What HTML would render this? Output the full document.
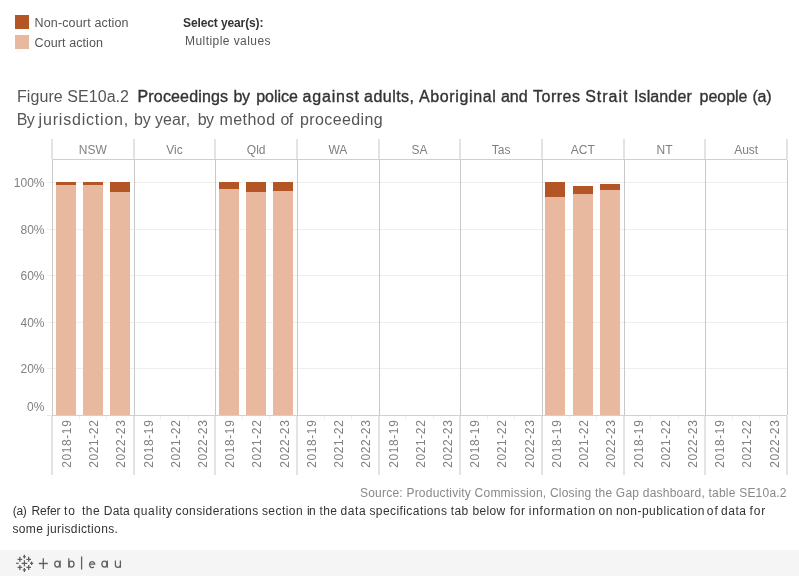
<!DOCTYPE html>
<html><head><meta charset="utf-8"><style>
html,body{margin:0;padding:0;background:#fff;width:799px;height:576px;overflow:hidden;position:relative}
.t{position:absolute;white-space:pre;font-family:"Liberation Sans",sans-serif}
.r{position:absolute}
.rot{position:absolute;width:0;height:0;font-family:"Liberation Sans",sans-serif;font-size:12px;color:#808080;white-space:nowrap}
.rot span{position:absolute;left:0;top:0;transform:translate(-50%,-50%) rotate(-90deg);line-height:12px;letter-spacing:0.6px;padding-left:0.6px}
</style></head><body><div style="position:absolute;left:0;top:0;width:799px;height:576px;will-change:transform">
<div class="r" style="left:15px;top:15px;width:14px;height:14px;background:#b45526"></div>
<div class="r" style="left:15px;top:35px;width:14px;height:14px;background:#e9b99f"></div>
<div class="t" style="left:34.50px;top:16.62px;font-size:12.5px;line-height:12.5px;color:#555;letter-spacing:0.153px">Non-court action</div>
<div class="t" style="left:34.50px;top:37.42px;font-size:12.5px;line-height:12.5px;color:#555;letter-spacing:0.101px">Court action</div>
<div class="t" style="left:183.00px;top:17.34px;font-size:12px;line-height:12px;color:#333;font-weight:bold;letter-spacing:-0.110px">Select year(s):</div>
<div class="t" style="left:185.00px;top:34.84px;font-size:12px;line-height:12px;color:#555;letter-spacing:0.438px">Multiple values</div>
<div class="t" style="left:17.00px;top:89.46px;font-size:16px;line-height:16px;color:#555;letter-spacing:0.063px">Figure SE10a.2</div>
<div class="t" style="left:137.50px;top:89.46px;font-size:16px;line-height:16px;color:#333;letter-spacing:0.160px;-webkit-text-stroke:0.35px #333;">Proceedings</div>
<div class="t" style="left:233.50px;top:89.46px;font-size:16px;line-height:16px;color:#333;letter-spacing:-0.400px;-webkit-text-stroke:0.35px #333;">by</div>
<div class="t" style="left:256.20px;top:89.46px;font-size:16px;line-height:16px;color:#333;letter-spacing:0.000px;-webkit-text-stroke:0.35px #333;">police</div>
<div class="t" style="left:302.50px;top:89.46px;font-size:16px;line-height:16px;color:#333;letter-spacing:0.817px;-webkit-text-stroke:0.35px #333;">against</div>
<div class="t" style="left:364.00px;top:89.46px;font-size:16px;line-height:16px;color:#333;letter-spacing:0.483px;-webkit-text-stroke:0.35px #333;">adults,</div>
<div class="t" style="left:419.00px;top:89.46px;font-size:16px;line-height:16px;color:#333;letter-spacing:0.622px;-webkit-text-stroke:0.35px #333;">Aboriginal</div>
<div class="t" style="left:501.00px;top:89.46px;font-size:16px;line-height:16px;color:#333;letter-spacing:-0.050px;-webkit-text-stroke:0.35px #333;">and</div>
<div class="t" style="left:533.00px;top:89.46px;font-size:16px;line-height:16px;color:#333;letter-spacing:0.500px;-webkit-text-stroke:0.35px #333;">Torres</div>
<div class="t" style="left:585.15px;top:89.46px;font-size:16px;line-height:16px;color:#333;letter-spacing:1.000px;-webkit-text-stroke:0.35px #333;">Strait</div>
<div class="t" style="left:634.00px;top:89.46px;font-size:16px;line-height:16px;color:#333;letter-spacing:0.114px;-webkit-text-stroke:0.35px #333;">Islander</div>
<div class="t" style="left:699.60px;top:89.46px;font-size:16px;line-height:16px;color:#333;letter-spacing:-0.040px;-webkit-text-stroke:0.35px #333;">people</div>
<div class="t" style="left:752.50px;top:89.46px;font-size:16px;line-height:16px;color:#333;letter-spacing:-0.250px;-webkit-text-stroke:0.35px #333;">(a)</div>
<div class="t" style="left:16.80px;top:111.96px;font-size:16px;line-height:16px;color:#555;letter-spacing:-0.600px;">By</div>
<div class="t" style="left:38.60px;top:111.96px;font-size:16px;line-height:16px;color:#555;letter-spacing:0.800px;">jurisdiction,</div>
<div class="t" style="left:134.00px;top:111.96px;font-size:16px;line-height:16px;color:#555;letter-spacing:-0.200px;">by</div>
<div class="t" style="left:155.00px;top:111.96px;font-size:16px;line-height:16px;color:#555;letter-spacing:0.100px;">year,</div>
<div class="t" style="left:197.65px;top:111.96px;font-size:16px;line-height:16px;color:#555;letter-spacing:-0.600px;">by</div>
<div class="t" style="left:219.40px;top:111.96px;font-size:16px;line-height:16px;color:#555;letter-spacing:0.460px;">method</div>
<div class="t" style="left:280.50px;top:111.96px;font-size:16px;line-height:16px;color:#555;letter-spacing:-0.600px;">of</div>
<div class="t" style="left:300.00px;top:111.96px;font-size:16px;line-height:16px;color:#555;letter-spacing:0.378px;">proceeding</div>
<div class="r" style="left:47px;top:182px;width:740px;height:1px;background:#efefef"></div>
<div class="r" style="left:47px;top:229px;width:740px;height:1px;background:#efefef"></div>
<div class="r" style="left:47px;top:275px;width:740px;height:1px;background:#efefef"></div>
<div class="r" style="left:47px;top:322px;width:740px;height:1px;background:#efefef"></div>
<div class="r" style="left:47px;top:368px;width:740px;height:1px;background:#efefef"></div>
<div class="r" style="left:47px;top:415px;width:5px;height:1px;background:#e6e6e6"></div>
<div class="r" style="left:52px;top:415px;width:735px;height:1px;background:#d0d0d0"></div>
<div class="r" style="left:79px;top:416px;width:1px;height:3px;background:#eeeeee"></div>
<div class="r" style="left:106px;top:416px;width:1px;height:3px;background:#eeeeee"></div>
<div class="r" style="left:160px;top:416px;width:1px;height:3px;background:#eeeeee"></div>
<div class="r" style="left:188px;top:416px;width:1px;height:3px;background:#eeeeee"></div>
<div class="r" style="left:242px;top:416px;width:1px;height:3px;background:#eeeeee"></div>
<div class="r" style="left:269px;top:416px;width:1px;height:3px;background:#eeeeee"></div>
<div class="r" style="left:324px;top:416px;width:1px;height:3px;background:#eeeeee"></div>
<div class="r" style="left:351px;top:416px;width:1px;height:3px;background:#eeeeee"></div>
<div class="r" style="left:405px;top:416px;width:1px;height:3px;background:#eeeeee"></div>
<div class="r" style="left:433px;top:416px;width:1px;height:3px;background:#eeeeee"></div>
<div class="r" style="left:487px;top:416px;width:1px;height:3px;background:#eeeeee"></div>
<div class="r" style="left:514px;top:416px;width:1px;height:3px;background:#eeeeee"></div>
<div class="r" style="left:569px;top:416px;width:1px;height:3px;background:#eeeeee"></div>
<div class="r" style="left:596px;top:416px;width:1px;height:3px;background:#eeeeee"></div>
<div class="r" style="left:650px;top:416px;width:1px;height:3px;background:#eeeeee"></div>
<div class="r" style="left:678px;top:416px;width:1px;height:3px;background:#eeeeee"></div>
<div class="r" style="left:732px;top:416px;width:1px;height:3px;background:#eeeeee"></div>
<div class="r" style="left:759px;top:416px;width:1px;height:3px;background:#eeeeee"></div>
<div class="r" style="left:52px;top:159px;width:735px;height:1px;background:#cfcfcf"></div>
<div class="r" style="left:51px;top:139px;width:2px;height:20px;background:#e3e3e3"></div>
<div class="r" style="left:51px;top:416px;width:2px;height:59px;background:#e3e3e3"></div>
<div class="r" style="left:52px;top:160px;width:1px;height:255px;background:#c8c8c8"></div>
<div class="r" style="left:133px;top:139px;width:2px;height:20px;background:#e3e3e3"></div>
<div class="r" style="left:133px;top:416px;width:2px;height:59px;background:#e3e3e3"></div>
<div class="r" style="left:134px;top:160px;width:1px;height:255px;background:#c8c8c8"></div>
<div class="r" style="left:214px;top:139px;width:2px;height:20px;background:#e3e3e3"></div>
<div class="r" style="left:214px;top:416px;width:2px;height:59px;background:#e3e3e3"></div>
<div class="r" style="left:215px;top:160px;width:1px;height:255px;background:#c8c8c8"></div>
<div class="r" style="left:296px;top:139px;width:2px;height:20px;background:#e3e3e3"></div>
<div class="r" style="left:296px;top:416px;width:2px;height:59px;background:#e3e3e3"></div>
<div class="r" style="left:297px;top:160px;width:1px;height:255px;background:#c8c8c8"></div>
<div class="r" style="left:378px;top:139px;width:2px;height:20px;background:#e3e3e3"></div>
<div class="r" style="left:378px;top:416px;width:2px;height:59px;background:#e3e3e3"></div>
<div class="r" style="left:379px;top:160px;width:1px;height:255px;background:#c8c8c8"></div>
<div class="r" style="left:459px;top:139px;width:2px;height:20px;background:#e3e3e3"></div>
<div class="r" style="left:459px;top:416px;width:2px;height:59px;background:#e3e3e3"></div>
<div class="r" style="left:460px;top:160px;width:1px;height:255px;background:#c8c8c8"></div>
<div class="r" style="left:541px;top:139px;width:2px;height:20px;background:#e3e3e3"></div>
<div class="r" style="left:541px;top:416px;width:2px;height:59px;background:#e3e3e3"></div>
<div class="r" style="left:542px;top:160px;width:1px;height:255px;background:#c8c8c8"></div>
<div class="r" style="left:623px;top:139px;width:2px;height:20px;background:#e3e3e3"></div>
<div class="r" style="left:623px;top:416px;width:2px;height:59px;background:#e3e3e3"></div>
<div class="r" style="left:624px;top:160px;width:1px;height:255px;background:#c8c8c8"></div>
<div class="r" style="left:704px;top:139px;width:2px;height:20px;background:#e3e3e3"></div>
<div class="r" style="left:704px;top:416px;width:2px;height:59px;background:#e3e3e3"></div>
<div class="r" style="left:705px;top:160px;width:1px;height:255px;background:#c8c8c8"></div>
<div class="r" style="left:786px;top:139px;width:2px;height:20px;background:#e3e3e3"></div>
<div class="r" style="left:786px;top:416px;width:2px;height:59px;background:#e3e3e3"></div>
<div class="r" style="left:787px;top:160px;width:1px;height:255px;background:#c8c8c8"></div>
<div class="t" style="left:78.83px;top:143.84px;font-size:12px;line-height:12px;color:#808080;letter-spacing:0.000px">NSW</div>
<div class="t" style="left:166.27px;top:143.84px;font-size:12px;line-height:12px;color:#808080;letter-spacing:0.000px">Vic</div>
<div class="t" style="left:246.83px;top:143.84px;font-size:12px;line-height:12px;color:#808080;letter-spacing:0.000px">Qld</div>
<div class="t" style="left:328.39px;top:143.84px;font-size:12px;line-height:12px;color:#808080;letter-spacing:0.000px">WA</div>
<div class="t" style="left:411.49px;top:143.84px;font-size:12px;line-height:12px;color:#808080;letter-spacing:0.000px">SA</div>
<div class="t" style="left:491.83px;top:143.84px;font-size:12px;line-height:12px;color:#808080;letter-spacing:0.000px">Tas</div>
<div class="t" style="left:570.83px;top:143.84px;font-size:12px;line-height:12px;color:#808080;letter-spacing:0.000px">ACT</div>
<div class="t" style="left:656.50px;top:143.84px;font-size:12px;line-height:12px;color:#808080;letter-spacing:0.000px">NT</div>
<div class="t" style="left:734.15px;top:143.84px;font-size:12px;line-height:12px;color:#808080;letter-spacing:0.000px">Aust</div>
<div class="t" style="left:13.81px;top:177.44px;font-size:12px;line-height:12px;color:#808080;letter-spacing:0.000px">100%</div>
<div class="t" style="left:20.48px;top:224.44px;font-size:12px;line-height:12px;color:#808080;letter-spacing:0.000px">80%</div>
<div class="t" style="left:20.48px;top:270.44px;font-size:12px;line-height:12px;color:#808080;letter-spacing:0.000px">60%</div>
<div class="t" style="left:20.48px;top:317.44px;font-size:12px;line-height:12px;color:#808080;letter-spacing:0.000px">40%</div>
<div class="t" style="left:20.48px;top:363.44px;font-size:12px;line-height:12px;color:#808080;letter-spacing:0.000px">20%</div>
<div class="t" style="left:26.96px;top:400.84px;font-size:12px;line-height:12px;color:#808080;letter-spacing:0.000px">0%</div>
<div class="r" style="left:56px;top:182px;width:20px;height:3px;background:#b45526"></div>
<div class="r" style="left:56px;top:185px;width:20px;height:230px;background:#e9b99f"></div>
<div class="r" style="left:83px;top:182px;width:20px;height:3px;background:#b45526"></div>
<div class="r" style="left:83px;top:185px;width:20px;height:230px;background:#e9b99f"></div>
<div class="r" style="left:110px;top:182px;width:20px;height:10px;background:#b45526"></div>
<div class="r" style="left:110px;top:192px;width:20px;height:223px;background:#e9b99f"></div>
<div class="r" style="left:219px;top:182px;width:20px;height:7px;background:#b45526"></div>
<div class="r" style="left:219px;top:189px;width:20px;height:226px;background:#e9b99f"></div>
<div class="r" style="left:246px;top:182px;width:20px;height:10px;background:#b45526"></div>
<div class="r" style="left:246px;top:192px;width:20px;height:223px;background:#e9b99f"></div>
<div class="r" style="left:273px;top:182px;width:20px;height:9px;background:#b45526"></div>
<div class="r" style="left:273px;top:191px;width:20px;height:224px;background:#e9b99f"></div>
<div class="r" style="left:545px;top:182px;width:20px;height:15px;background:#b45526"></div>
<div class="r" style="left:545px;top:197px;width:20px;height:218px;background:#e9b99f"></div>
<div class="r" style="left:573px;top:186px;width:20px;height:8px;background:#b45526"></div>
<div class="r" style="left:573px;top:194px;width:20px;height:221px;background:#e9b99f"></div>
<div class="r" style="left:600px;top:184px;width:20px;height:6px;background:#b45526"></div>
<div class="r" style="left:600px;top:190px;width:20px;height:225px;background:#e9b99f"></div>
<div class="rot" style="left:66.90px;top:444px"><span>2018-19</span></div>
<div class="rot" style="left:94.10px;top:444px"><span>2021-22</span></div>
<div class="rot" style="left:121.30px;top:444px"><span>2022-23</span></div>
<div class="rot" style="left:148.57px;top:444px"><span>2018-19</span></div>
<div class="rot" style="left:175.77px;top:444px"><span>2021-22</span></div>
<div class="rot" style="left:202.97px;top:444px"><span>2022-23</span></div>
<div class="rot" style="left:230.23px;top:444px"><span>2018-19</span></div>
<div class="rot" style="left:257.43px;top:444px"><span>2021-22</span></div>
<div class="rot" style="left:284.63px;top:444px"><span>2022-23</span></div>
<div class="rot" style="left:311.90px;top:444px"><span>2018-19</span></div>
<div class="rot" style="left:339.10px;top:444px"><span>2021-22</span></div>
<div class="rot" style="left:366.30px;top:444px"><span>2022-23</span></div>
<div class="rot" style="left:393.56px;top:444px"><span>2018-19</span></div>
<div class="rot" style="left:420.76px;top:444px"><span>2021-22</span></div>
<div class="rot" style="left:447.96px;top:444px"><span>2022-23</span></div>
<div class="rot" style="left:475.23px;top:444px"><span>2018-19</span></div>
<div class="rot" style="left:502.43px;top:444px"><span>2021-22</span></div>
<div class="rot" style="left:529.63px;top:444px"><span>2022-23</span></div>
<div class="rot" style="left:556.90px;top:444px"><span>2018-19</span></div>
<div class="rot" style="left:584.10px;top:444px"><span>2021-22</span></div>
<div class="rot" style="left:611.30px;top:444px"><span>2022-23</span></div>
<div class="rot" style="left:638.56px;top:444px"><span>2018-19</span></div>
<div class="rot" style="left:665.76px;top:444px"><span>2021-22</span></div>
<div class="rot" style="left:692.96px;top:444px"><span>2022-23</span></div>
<div class="rot" style="left:720.23px;top:444px"><span>2018-19</span></div>
<div class="rot" style="left:747.43px;top:444px"><span>2021-22</span></div>
<div class="rot" style="left:774.63px;top:444px"><span>2022-23</span></div>
<div class="t" style="left:360.00px;top:486.84px;font-size:12px;line-height:12px;color:#888;letter-spacing:0.217px">Source: Productivity Commission, Closing the Gap dashboard, table SE10a.2</div>
<div class="t" style="left:12.70px;top:504.84px;font-size:12px;line-height:12px;color:#333;letter-spacing:-0.250px;">(a)</div>
<div class="t" style="left:31.50px;top:504.84px;font-size:12px;line-height:12px;color:#333;letter-spacing:-0.075px;">Refer</div>
<div class="t" style="left:64.00px;top:504.84px;font-size:12px;line-height:12px;color:#333;letter-spacing:1.000px;">to</div>
<div class="t" style="left:82.00px;top:504.84px;font-size:12px;line-height:12px;color:#333;letter-spacing:0.450px;">the</div>
<div class="t" style="left:103.80px;top:504.84px;font-size:12px;line-height:12px;color:#333;letter-spacing:0.200px;">Data</div>
<div class="t" style="left:133.50px;top:504.84px;font-size:12px;line-height:12px;color:#333;letter-spacing:0.633px;">quality</div>
<div class="t" style="left:175.60px;top:504.84px;font-size:12px;line-height:12px;color:#333;letter-spacing:0.400px;">considerations</div>
<div class="t" style="left:261.90px;top:504.84px;font-size:12px;line-height:12px;color:#333;letter-spacing:0.450px;">section</div>
<div class="t" style="left:307.00px;top:504.84px;font-size:12px;line-height:12px;color:#333;letter-spacing:-0.600px;">in</div>
<div class="t" style="left:319.50px;top:504.84px;font-size:12px;line-height:12px;color:#333;letter-spacing:0.400px;">the</div>
<div class="t" style="left:340.60px;top:504.84px;font-size:12px;line-height:12px;color:#333;letter-spacing:0.567px;">data</div>
<div class="t" style="left:369.40px;top:504.84px;font-size:12px;line-height:12px;color:#333;letter-spacing:0.423px;">specifications</div>
<div class="t" style="left:450.70px;top:504.84px;font-size:12px;line-height:12px;color:#333;letter-spacing:0.400px;">tab</div>
<div class="t" style="left:472.60px;top:504.84px;font-size:12px;line-height:12px;color:#333;letter-spacing:0.275px;">below</div>
<div class="t" style="left:510.00px;top:504.84px;font-size:12px;line-height:12px;color:#333;letter-spacing:0.500px;">for</div>
<div class="t" style="left:528.80px;top:504.84px;font-size:12px;line-height:12px;color:#333;letter-spacing:0.690px;">information</div>
<div class="t" style="left:598.60px;top:504.84px;font-size:12px;line-height:12px;color:#333;letter-spacing:0.400px;">on</div>
<div class="t" style="left:615.90px;top:504.84px;font-size:12px;line-height:12px;color:#333;letter-spacing:0.507px;">non-publication</div>
<div class="t" style="left:706.75px;top:504.84px;font-size:12px;line-height:12px;color:#333;letter-spacing:1.000px;">of</div>
<div class="t" style="left:721.00px;top:504.84px;font-size:12px;line-height:12px;color:#333;letter-spacing:0.533px;">data</div>
<div class="t" style="left:749.50px;top:504.84px;font-size:12px;line-height:12px;color:#333;letter-spacing:0.900px;">for</div>
<div class="t" style="left:12.40px;top:522.84px;font-size:12px;line-height:12px;color:#333;letter-spacing:0.378px">some jurisdictions.</div>
<div class="r" style="left:0px;top:550px;width:799px;height:26px;background:#f5f5f5"></div>
<svg style="position:absolute;left:0;top:550px" width="140" height="26" viewBox="0 550 140 26">
<g stroke="#606060" stroke-width="1.25" fill="none" stroke-linecap="butt">
<path d="M21.6 563.3h5.6M24.4 560.3v6"/>
<path d="M23.0 556.6h2.8M24.4 554.8v3.6"/>
<path d="M22.8 569.9h3.2M24.4 567.9v4"/>
<path d="M16.1 563.3h2.6"/>
<path d="M30.0 563.3h3.2M31.6 561.5v3.6"/>
<path d="M17.6 559.3h4.6M19.9 556.8v5"/>
<path d="M26.4 559.3h4.6M28.7 556.8v5"/>
<path d="M17.6 567.4h4.6M19.9 564.9v5"/>
<path d="M26.4 567.4h4.6M28.7 564.9v5"/>
</g>
<g stroke="#606060" stroke-width="1.3" fill="none">
<path d="M38.8 563.5h9M43.3 558.2v10.7"/>
<ellipse cx="57.2" cy="564.1" rx="2.5" ry="3.0"/><path d="M60.1 560.5v7.3"/>
<path d="M68.8 558.2v9.6"/><ellipse cx="71.5" cy="564.1" rx="2.5" ry="3.0"/>
<path d="M81.6 556.5v13"/>
<path d="M89.5 564.2h5.2a2.6 3 0 1 0 -0.8 2.6"/>
<ellipse cx="104.4" cy="564.1" rx="2.5" ry="3.0"/><path d="M107.3 560.5v7.3"/>
<path d="M115.4 560.4v4.4a2.5 2.6 0 0 0 5 0M120.4 560.4v7.4"/>
</g></svg>
</div></body></html>
